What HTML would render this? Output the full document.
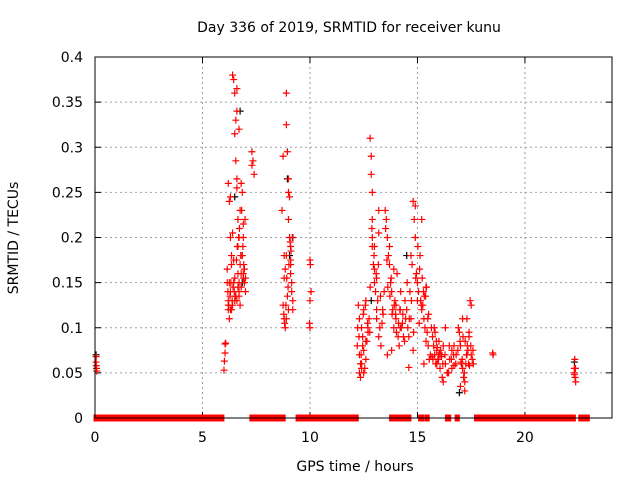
<!DOCTYPE html>
<html><head><meta charset="utf-8"><style>
body{margin:0;background:#fff}
svg{display:block;font-family:"DejaVu Sans","Liberation Sans",sans-serif}
</style></head><body>
<svg id="chart" width="640" height="480">
<text x="349" y="32" font-size="14" text-anchor="middle">Day 336 of 2019, SRMTID for receiver kunu</text>
<text x="18" y="238" font-size="14" text-anchor="middle" transform="rotate(-90 18 238)">SRMTID / TECUs</text>
<text x="355" y="471" font-size="14" text-anchor="middle">GPS time / hours</text>
<g id="grid"></g><g id="axes"></g><g id="marks"></g>
<rect x="95" y="57" width="517" height="361" fill="none" stroke="#000" stroke-width="1"/>
</svg>
<script>
const xTicks=[0,5,10,15,20];
const yTicks=[0,0.05,0.1,0.15,0.2,0.25,0.3,0.35,0.4];
const yTickLabels=["0","0.05","0.1","0.15","0.2","0.25","0.3","0.35","0.4"];
const zeroBands=[[0,5.95],[7.25,8.8],[9.4,12.2],[13.75,13.85],[13.95,14.05],[14.15,14.65],[15.1,15.25],[15.4,15.5],[16.35,16.5],[16.8,16.9],[17.7,22.3],[22.55,22.95]];
const redT=[0.05,0.05,0.06,0.07,0.08,6.0,6.02,6.05,6.05,6.08,
6.15,6.2,6.2,6.25,6.3,6.3,6.35,6.35,6.4,6.45,6.5,6.5,6.55,6.6,6.6,6.65,6.65,6.65,6.7,6.7,6.7,6.75,6.75,6.8,6.8,6.85,6.85,6.9,6.9,6.95,7.0,7.0,6.25,6.4,6.55,6.6,6.45,6.3,6.2,6.5,6.75,6.9,
6.15,6.18,6.22,6.28,6.32,6.38,6.42,6.48,6.52,6.58,6.62,6.68,6.72,6.78,6.82,6.88,6.92,6.98,6.2,6.3,6.4,6.5,6.6,6.7,6.8,6.9,6.25,6.35,6.45,6.55,6.65,6.85,6.95,6.6,6.7,
7.3,7.35,7.3,7.4,
8.7,8.75,8.8,8.85,8.9,8.9,8.95,9.0,9.0,9.05,9.05,9.1,9.1,9.15,9.2,9.2,8.8,8.85,8.95,9.0,9.1,9.15,8.75,8.9,8.78,8.82,8.88,8.92,8.98,9.02,9.08,9.12,9.18,8.8,8.9,9.0,9.1,
10.0,10.02,10.05,10.0,9.98,10.0,
12.2,12.25,12.3,12.3,12.35,12.4,12.4,12.45,12.5,12.5,12.55,12.6,12.6,12.65,12.7,12.75,12.8,12.85,12.9,12.9,12.95,13.0,13.0,13.05,13.1,13.1,13.15,13.2,13.25,13.3,13.35,13.4,13.45,12.3,12.5,12.7,12.85,12.9,13.2,12.35,12.45,
12.22,12.28,12.38,12.48,12.58,12.68,12.78,12.88,12.98,13.08,13.18,13.28,13.38,12.6,12.8,13.0,13.2,12.4,12.9,13.1,
13.5,13.55,13.6,13.65,13.7,13.75,13.8,13.85,13.9,13.95,14.0,14.05,14.1,14.15,14.2,14.25,14.3,14.35,14.4,14.45,13.6,13.8,14.0,14.2,13.7,13.9,
13.52,13.62,13.72,13.82,13.92,14.02,14.12,14.22,14.32,14.42,13.58,13.78,13.98,14.18,
14.5,14.55,14.6,14.65,14.7,14.75,14.8,14.85,14.9,14.95,15.0,15.05,15.1,15.15,15.2,15.25,15.3,15.35,15.4,15.45,15.5,15.55,15.6,14.6,14.8,15.0,15.2,15.4,14.7,14.9,15.3,
14.52,14.62,14.72,14.82,14.92,15.02,15.12,15.22,15.32,15.42,15.52,15.08,15.18,15.28,15.38,15.48,
15.65,15.7,15.75,15.8,15.85,15.9,15.95,16.0,16.05,16.1,16.15,16.2,16.3,16.4,16.5,16.6,16.7,16.8,16.9,17.0,17.05,17.1,17.15,17.2,17.25,17.3,17.35,17.4,17.45,17.5,17.55,17.6,16.0,16.2,16.45,16.7,16.95,17.1,17.3,17.5,15.9,16.3,16.6,17.0,17.2,17.4,
15.68,15.78,15.88,15.98,16.08,16.18,16.28,16.38,16.48,16.58,16.68,16.78,16.88,16.98,17.08,17.18,17.28,17.38,17.48,17.58,15.72,15.82,15.92,16.02,16.12,17.02,17.12,17.22,17.32,17.42,
18.5,18.52,22.3,22.32,22.35,22.3,22.33,22.36,22.3];
const redV=[0.068,0.062,0.058,0.055,0.052,0.053,0.063,0.072,0.082,0.083,
0.15,0.13,0.26,0.24,0.14,0.2,0.12,0.18,0.38,0.375,0.36,0.315,0.285,0.34,0.255,0.22,0.19,0.16,0.2,0.15,0.135,0.23,0.17,0.26,0.145,0.18,0.25,0.2,0.215,0.165,0.155,0.14,0.11,0.125,0.33,0.265,0.175,0.245,0.12,0.13,0.125,0.16,
0.165,0.14,0.125,0.135,0.15,0.13,0.145,0.14,0.135,0.175,0.19,0.2,0.21,0.18,0.23,0.19,0.17,0.22,0.125,0.12,0.205,0.155,0.13,0.14,0.16,0.155,0.15,0.17,0.15,0.135,0.145,0.18,0.15,0.365,0.32,
0.295,0.285,0.28,0.27,
0.23,0.29,0.18,0.165,0.36,0.325,0.295,0.25,0.265,0.245,0.2,0.19,0.16,0.15,0.13,0.12,0.11,0.1,0.135,0.22,0.17,0.14,0.125,0.18,0.115,0.105,0.125,0.155,0.145,0.17,0.195,0.185,0.2,0.155,0.11,0.12,0.175,
0.175,0.17,0.14,0.13,0.105,0.1,
0.08,0.125,0.05,0.11,0.045,0.06,0.1,0.09,0.075,0.12,0.055,0.065,0.13,0.085,0.095,0.11,0.31,0.29,0.25,0.2,0.17,0.19,0.15,0.14,0.12,0.11,0.13,0.09,0.1,0.08,0.105,0.115,0.14,0.07,0.05,0.1,0.27,0.22,0.23,0.06,0.08,
0.1,0.09,0.07,0.115,0.125,0.105,0.095,0.21,0.18,0.16,0.17,0.135,0.12,0.085,0.145,0.165,0.205,0.055,0.19,0.155,
0.23,0.22,0.2,0.18,0.17,0.15,0.14,0.12,0.1,0.13,0.11,0.16,0.09,0.08,0.12,0.1,0.105,0.09,0.085,0.11,0.07,0.075,0.125,0.1,0.19,0.165,
0.21,0.145,0.135,0.115,0.125,0.095,0.105,0.14,0.115,0.13,0.175,0.155,0.115,0.12,
0.12,0.1,0.09,0.14,0.18,0.17,0.24,0.22,0.2,0.16,0.15,0.14,0.165,0.13,0.12,0.125,0.11,0.1,0.085,0.095,0.08,0.065,0.07,0.056,0.075,0.13,0.22,0.145,0.11,0.235,0.06,0.15,
0.11,0.13,0.095,0.155,0.19,0.18,0.155,0.135,0.145,0.115,0.105,0.125,0.14,0.135,0.11,0.1,
0.09,0.08,0.07,0.06,0.075,0.065,0.085,0.055,0.07,0.045,0.08,0.06,0.05,0.065,0.075,0.058,0.07,0.1,0.08,0.06,0.055,0.045,0.04,0.06,0.11,0.075,0.095,0.13,0.07,0.065,0.06,0.07,0.04,0.05,0.08,0.095,0.11,0.07,0.125,0.06,0.1,0.055,0.035,0.03,0.09,0.068,
0.1,0.085,0.065,0.075,0.06,0.07,0.05,0.08,0.065,0.07,0.06,0.075,0.085,0.065,0.05,0.07,0.06,0.08,0.075,0.065,0.095,0.078,0.072,0.068,0.062,0.09,0.085,0.08,0.058,0.072,
0.07,0.055,0.065,0.055,0.048,0.045,0.04,0.05,0.042];
const blackT=[0.05,6.75,6.5,8.95,9.05,12.85,14.5,16.95,22.3,9.2,6.85];
const blackV=[0.07,0.34,0.245,0.265,0.18,0.13,0.18,0.028,0.062,0.2,0.15];
const X0=95,X1=612,Y0=418,Y1=57,XMAX=24.05,YMAX=0.4;
const sx=t=>X0+t*(X1-X0)/XMAX, sy=v=>Y0-v*(Y0-Y1)/YMAX;
const NS='http://www.w3.org/2000/svg';
const grid=document.getElementById('grid'),axes=document.getElementById('axes'),marks=document.getElementById('marks');
function mk(tag,at,parent){const e=document.createElementNS(NS,tag);for(const k in at)e.setAttribute(k,at[k]);parent.appendChild(e);return e;}
xTicks.forEach(t=>{const x=sx(t);
 if(t>0){const g=mk('line',{x1:x,x2:x,y1:Y1,y2:Y0,stroke:'#a0a0a0','stroke-dasharray':'2,3'},grid);
 
 }
 const l=mk('text',{x:x,y:Y0+24,'font-size':14,'text-anchor':'middle'},axes);l.textContent=t;
 
 
 mk('line',{x1:x,x2:x,y1:Y0,y2:Y0-6,stroke:'#000'},axes);mk('line',{x1:x,x2:x,y1:Y1,y2:Y1+6,stroke:'#000'},axes);});
yTicks.forEach((v,i)=>{const y=sy(v);
 if(v>0&&v<YMAX){const g=mk('line',{x1:X0,x2:X1,y1:y,y2:y,stroke:'#a0a0a0','stroke-dasharray':'2,3'},grid);
 
 }
 const l=mk('text',{x:X0-12,y:y+5,'font-size':14,'text-anchor':'end'},axes);l.textContent=yTickLabels[i];
 
 
 mk('line',{x1:X0,x2:X0+6,y1:y,y2:y,stroke:'#000'},axes);mk('line',{x1:X1,x2:X1-6,y1:y,y2:y,stroke:'#000'},axes);});
zeroBands.forEach(b=>{const r=mk('rect',{x:sx(b[0])-1.5,y:Y0-3.5,width:sx(b[1])-sx(b[0])+3,height:7,fill:'#ff0000'},marks);
 
 });
function plus(t,v,c,name){const x=sx(t),y=sy(v);
 const p=mk('path',{d:`M${x-3.5} ${y}H${x+3.5}M${x} ${y-3.5}V${y+3.5}`,stroke:c,'stroke-width':1.2,fill:'none'},marks);
 
 }
blackT.forEach((t,i)=>plus(t,blackV[i],'#000','black-point'));
redT.forEach((t,i)=>plus(t,redV[i],'#ff0000','red-point'));
</script>
</body></html>
